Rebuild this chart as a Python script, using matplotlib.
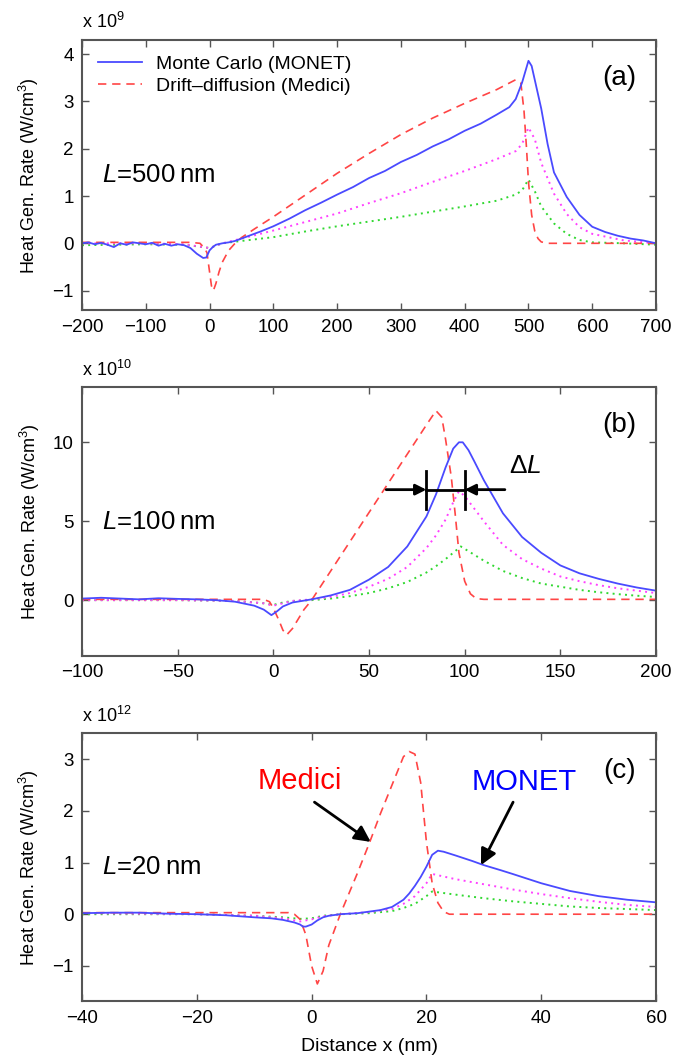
import matplotlib
matplotlib.use("Agg")
import matplotlib.pyplot as plt

plt.rcParams['font.family'] = ['Liberation Sans', 'DejaVu Sans']
plt.rcParams['mathtext.fontset'] = 'custom'
plt.rcParams['mathtext.rm'] = 'Liberation Sans'
plt.rcParams['mathtext.it'] = 'Liberation Sans:italic'

# ---- panel (a), L = 500 nm, values in 1e9 W/cm^3 ----
a_monet_x = [-200, -190, -180, -170, -160, -150, -140, -130, -120, -110, -100, -90, -80, -70, -60, -50, -40, -30, -20, -10, -5, 0, 5, 10, 20, 30, 40, 50, 60, 80, 100, 125, 150, 175, 200, 225, 250, 275, 300, 325, 350, 375, 400, 425, 450, 470, 480, 490, 500, 505, 510, 520, 530, 540, 560, 580, 600, 620, 640, 660, 680, 700]
a_monet_y = [0.0, 0.02, -0.02, 0.01, -0.03, -0.08, 0.0, -0.03, 0.02, 0.0, -0.02, 0.01, -0.05, -0.01, -0.05, -0.02, -0.04, -0.1, -0.22, -0.31, -0.3, -0.15, -0.08, -0.03, 0.0, 0.02, 0.05, 0.1, 0.15, 0.25, 0.36, 0.52, 0.7, 0.86, 1.03, 1.19, 1.38, 1.53, 1.72, 1.87, 2.05, 2.2, 2.38, 2.53, 2.72, 2.88, 3.05, 3.4, 3.86, 3.75, 3.45, 2.85, 2.1, 1.5, 0.98, 0.6, 0.35, 0.24, 0.16, 0.1, 0.06, 0.0]
a_medici_x = [-200, -30, -15, -8, -4, 0, 3, 6, 10, 15, 20, 30, 40, 50, 70, 100, 150, 200, 250, 300, 350, 400, 450, 480, 488, 493, 497, 500, 505, 510, 515, 520, 530, 700]
a_medici_y = [0.02, 0.02, 0.0, -0.1, -0.2, -0.6, -0.9, -1.0, -0.85, -0.6, -0.4, -0.15, 0.0, 0.12, 0.3, 0.56, 1.02, 1.48, 1.9, 2.3, 2.65, 2.96, 3.25, 3.46, 3.4, 2.8, 2.0, 1.3, 0.6, 0.25, 0.1, 0.03, 0.0, 0.0]
a_mag_x = [-200, -100, -40, -10, 0, 20, 50, 100, 150, 200, 250, 300, 350, 400, 450, 480, 490, 500, 510, 520, 540, 560, 580, 600, 650, 700]
a_mag_y = [0.0, 0.0, -0.02, -0.08, -0.1, 0.0, 0.1, 0.27, 0.45, 0.63, 0.85, 1.06, 1.3, 1.53, 1.78, 1.95, 2.1, 2.45, 2.2, 1.7, 1.05, 0.62, 0.34, 0.2, 0.06, 0.0]
a_grn_x = [-200, -100, -40, -10, 0, 20, 50, 100, 150, 200, 250, 300, 350, 400, 450, 480, 490, 500, 510, 520, 540, 560, 580, 600, 650, 700]
a_grn_y = [-0.04, -0.02, -0.03, -0.08, -0.1, 0.0, 0.05, 0.13, 0.25, 0.36, 0.46, 0.56, 0.67, 0.78, 0.9, 1.03, 1.12, 1.35, 1.1, 0.78, 0.42, 0.2, 0.07, 0.02, 0.0, -0.03]

# ---- panel (b), L = 100 nm, values in 1e10 W/cm^3 ----
b_monet_x = [-100, -90, -80, -70, -60, -50, -40, -30, -20, -10, -5, -1, 2, 5, 10, 15, 20, 30, 40, 50, 60, 70, 80, 85, 90, 94, 97, 99, 102, 105, 110, 120, 130, 140, 150, 160, 170, 180, 190, 200]
b_monet_y = [0.1, 0.15, 0.1, 0.05, 0.12, 0.08, 0.05, 0.0, -0.1, -0.35, -0.6, -0.95, -0.7, -0.4, -0.15, -0.05, 0.05, 0.3, 0.65, 1.3, 2.1, 3.4, 5.3, 6.7, 8.4, 9.6, 10.0, 10.0, 9.5, 8.8, 7.6, 5.5, 4.0, 3.0, 2.2, 1.7, 1.35, 1.05, 0.8, 0.6]
b_medici_x = [-100, -5, -2, 0, 3, 5, 7, 10, 13, 16, 20, 30, 40, 50, 60, 70, 80, 85, 88, 90, 93, 95, 97, 100, 103, 106, 110, 200]
b_medici_y = [0.05, 0.05, -0.1, -0.5, -1.3, -1.9, -2.2, -1.8, -1.2, -0.6, 0.0, 1.85, 3.7, 5.55, 7.4, 9.25, 11.1, 12.0, 11.6, 10.2, 7.8, 5.5, 3.0, 1.2, 0.4, 0.1, 0.05, 0.05]
b_mag_x = [-100, -50, -20, -5, 0, 5, 10, 20, 30, 40, 50, 60, 70, 80, 85, 90, 94, 97, 100, 105, 110, 120, 130, 140, 150, 160, 170, 180, 190, 200]
b_mag_y = [0.0, 0.0, -0.05, -0.2, -0.35, -0.2, -0.05, 0.05, 0.2, 0.45, 0.85, 1.35, 2.1, 3.3, 4.1, 5.1, 6.2, 6.9, 6.6, 5.8, 5.0, 3.5, 2.6, 2.0, 1.5, 1.2, 0.95, 0.75, 0.6, 0.45]
b_grn_x = [-100, -50, -20, -5, 0, 5, 10, 20, 30, 40, 50, 60, 70, 80, 85, 90, 95, 98, 102, 110, 120, 130, 140, 150, 160, 170, 180, 190, 200]
b_grn_y = [0.0, 0.0, -0.05, -0.2, -0.3, -0.15, -0.05, 0.0, 0.1, 0.25, 0.45, 0.75, 1.15, 1.75, 2.15, 2.6, 3.1, 3.4, 3.1, 2.5, 1.85, 1.4, 1.05, 0.85, 0.65, 0.5, 0.38, 0.28, 0.2]

# ---- panel (c), L = 20 nm, values in 1e12 W/cm^3 ----
c_monet_x = [-40, -35, -30, -25, -20, -15, -10, -7, -5, -3, -2, -1.5, -1, 0, 1, 2, 3, 5, 8, 10, 12, 14, 16, 17, 18, 19, 20, 21, 22, 23, 25, 28, 30, 33, 35, 40, 45, 50, 55, 60]
c_monet_y = [0.02, 0.03, 0.03, 0.01, 0.0, -0.02, -0.06, -0.08, -0.11, -0.16, -0.2, -0.24, -0.24, -0.2, -0.12, -0.06, -0.03, 0.0, 0.02, 0.05, 0.08, 0.14, 0.28, 0.4, 0.55, 0.72, 0.92, 1.15, 1.23, 1.21, 1.14, 1.03, 0.95, 0.85, 0.78, 0.6, 0.45, 0.35, 0.28, 0.23]
c_medici_x = [-40, -10, -4, -3, -2, -1, 0, 1, 2, 3, 5, 8, 10, 12, 14, 16, 17, 18, 19, 20, 21, 22, 23, 24, 60]
c_medici_y = [0.03, 0.03, 0.03, 0.0, -0.1, -0.4, -1.0, -1.35, -1.1, -0.6, 0.0, 0.8, 1.36, 1.95, 2.5, 3.05, 3.15, 3.1, 2.55, 1.4, 0.6, 0.22, 0.05, 0.0, 0.0]
c_mag_x = [-40, -20, -10, -5, -2, 0, 2, 5, 10, 14, 16, 18, 20, 21, 23, 25, 30, 35, 40, 45, 50, 55, 60]
c_mag_y = [0.02, 0.0, -0.03, -0.08, -0.14, -0.1, -0.04, 0.0, 0.04, 0.1, 0.2, 0.35, 0.6, 0.78, 0.73, 0.68, 0.58, 0.48, 0.39, 0.31, 0.24, 0.18, 0.14]
c_grn_x = [-40, -20, -10, -5, -2, 0, 2, 5, 10, 14, 16, 18, 20, 21, 23, 25, 30, 35, 40, 45, 50, 55, 60]
c_grn_y = [0.0, 0.0, -0.03, -0.06, -0.09, -0.08, -0.03, 0.0, 0.02, 0.06, 0.12, 0.2, 0.35, 0.44, 0.41, 0.38, 0.31, 0.25, 0.2, 0.15, 0.12, 0.1, 0.08]

panel_tags = ["(a)", "(b)", "(c)"]
length_labels = ["500", "100", "20"]
exponents = ["9", "10", "12"]

blue = '#4a4aff'
red = '#ff4545'
mag = '#ff40ff'
grn = '#30d830'
frame_col = '#555555'

fig = plt.figure(figsize=(6.73, 10.61), dpi=100)
left, width = 0.1218, 0.853
axa = fig.add_axes([left, 0.7074, width, 0.2549])
axb = fig.add_axes([left, 0.3817, width, 0.2535])
axc = fig.add_axes([left, 0.0561, width, 0.2526])

panels = [
    (axa, a_monet_x, a_monet_y, a_medici_x, a_medici_y, a_mag_x, a_mag_y, a_grn_x, a_grn_y),
    (axb, b_monet_x, b_monet_y, b_medici_x, b_medici_y, b_mag_x, b_mag_y, b_grn_x, b_grn_y),
    (axc, c_monet_x, c_monet_y, c_medici_x, c_medici_y, c_mag_x, c_mag_y, c_grn_x, c_grn_y),
]

for i, (ax, mx, my, dx, dy, px, py, gx, gy) in enumerate(panels):
    ax.plot(gx, gy, color=grn, ls=(0, (1, 2.2)), lw=1.4)
    ax.plot(px, py, color=mag, ls=(0, (1, 2.2)), lw=1.4)
    ax.plot(dx, dy, color=red, ls=(0, (5, 3.5)), lw=1.2, label='Drift\u2013diffusion (Medici)')
    ax.plot(mx, my, color=blue, ls='-', lw=1.3, label='Monte Carlo (MONET)')
    ax.tick_params(direction='in', top=True, right=True, length=5, width=1,
                   color=frame_col, labelsize=13.5, pad=6)
    for s in ax.spines.values():
        s.set_color(frame_col)
        s.set_linewidth(1.5)
    ax.set_ylabel('Heat Gen. Rate (W/cm$^3$)', fontsize=13, labelpad=8)
    ax.text(0.0, 1.065, 'x 10$^{' + exponents[i] + '}$', transform=ax.transAxes,
            fontsize=13, ha='left', va='center')
    ax.text(0.965, 0.86, panel_tags[i], transform=ax.transAxes, fontsize=20,
            ha='right', va='center')
    ax.text(0.035, 0.5, '$L$=' + length_labels[i] + '\u2009nm', transform=ax.transAxes,
            fontsize=18.5, ha='left', va='center')

axa.set_xlim(-200, 700)
axa.set_ylim(-1.42, 4.3)
axa.set_xticks(range(-200, 701, 100))
axa.set_yticks(range(-1, 5))
h, l = axa.get_legend_handles_labels()
axa.legend(h[::-1], l[::-1], loc='upper left', frameon=False, fontsize=14,
           handlelength=2.3, labelspacing=0.2, borderaxespad=0.4, handletextpad=0.7)

axb.set_xlim(-100, 200)
axb.set_ylim(-3.54, 13.5)
axb.set_xticks(range(-100, 201, 50))
axb.set_yticks([0, 5, 10])

# Delta L marker
axb.annotate('', xy=(80, 7), xytext=(59, 7),
             arrowprops=dict(arrowstyle='-|>', color='black', lw=2, mutation_scale=16, shrinkA=0, shrinkB=0))
axb.annotate('', xy=(100, 7), xytext=(121, 7),
             arrowprops=dict(arrowstyle='-|>', color='black', lw=2, mutation_scale=16, shrinkA=0, shrinkB=0))
axb.plot([80, 100], [7, 7], color='black', lw=2)
axb.plot([80, 80], [5.8, 8.2], color='black', lw=2)
axb.plot([100, 100], [5.8, 8.2], color='black', lw=2)
axb.text(123, 8.5, '$\\Delta L$', fontsize=19, ha='left', va='center')

axc.set_xlim(-40, 60)
axc.set_ylim(-1.69, 3.5)
axc.set_xticks(range(-40, 61, 20))
axc.set_yticks(range(-1, 4))
axc.set_xlabel('Distance x (nm)', fontsize=14, labelpad=8)

axc.text(-2, 2.58, 'Medici', color='red', fontsize=21, ha='center', va='center')
axc.text(37, 2.56, 'MONET', color='blue', fontsize=21, ha='center', va='center')
axc.annotate('', xy=(10.3, 1.4), xytext=(0.5, 2.17),
             arrowprops=dict(arrowstyle='-|>', color='black', lw=2, mutation_scale=24, shrinkA=0, shrinkB=0))
axc.annotate('', xy=(29.5, 0.95), xytext=(35.1, 2.17),
             arrowprops=dict(arrowstyle='-|>', color='black', lw=2, mutation_scale=24, shrinkA=0, shrinkB=0))

fig.savefig('out.png', dpi=100)
